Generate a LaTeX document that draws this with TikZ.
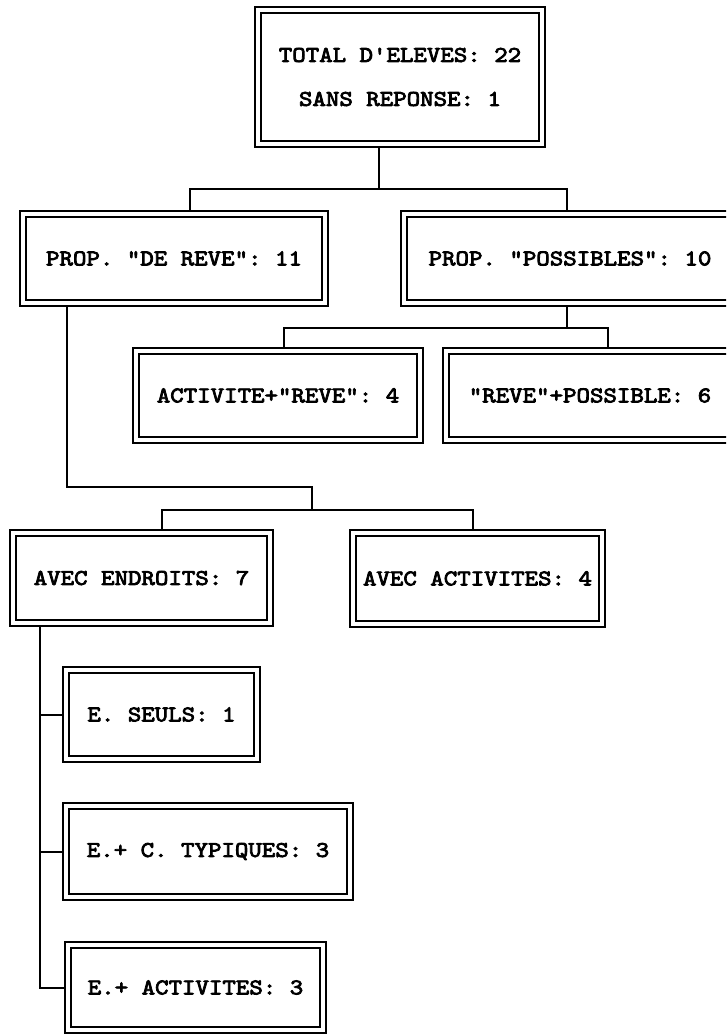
\documentclass[tikz,border=0pt]{standalone}
\usepackage{fontspec}
\setmonofont[FakeBold=3.5,FakeStretch=1.14]{lmmono10-regular.otf}
\begin{document}
\begin{tikzpicture}[x=1pt,y=-1pt,
  box/.style={draw, line width=1.2pt, inner sep=0pt, align=center,
    font=\ttfamily\fontsize{22.5}{44}\selectfont,
    path picture={\draw[line width=2.6pt]
      ([shift={(6pt,6pt)}]path picture bounding box.south west) rectangle
      ([shift={(-6pt,-6pt)}]path picture bounding box.north east);}},
  link/.style={line width=2pt}]
\useasboundingbox (0,0) rectangle (726,1035);
\clip (0,0) rectangle (726,1035);

\node[box, minimum width=290pt, minimum height=140pt] (top) at (400,77) {TOTAL D'ELEVES: 22\\SANS REPONSE: 1};
\node[box, minimum width=308pt, minimum height=95pt] (reve) at (174,258.5) {PROP. "DE REVE": 11};
\node[box, minimum width=338pt, minimum height=95pt] (poss) at (570,258.5) {PROP. "POSSIBLES": 10};
\node[box, minimum width=290pt, minimum height=95pt] (act) at (278,395.5) {ACTIVITE+"REVE": 4};
\node[box, minimum width=294pt, minimum height=95pt] (rp) at (590,395.5) {"REVE"+POSSIBLE: 6};
\node[box, minimum width=263pt, minimum height=96pt] (endr) at (141.5,578) {AVEC ENDROITS: 7};
\node[box, minimum width=255pt, minimum height=97pt] (avac) at (477.5,578.5) {AVEC ACTIVITES: 4};
\node[box, minimum width=197pt, minimum height=95pt] (eseul) at (161.5,714.5) {E. SEULS: 1};
\node[box, minimum width=290pt, minimum height=97pt] (etyp) at (208,851.5) {E.+ C. TYPIQUES: 3};
\node[box, minimum width=261pt, minimum height=91pt] (eact) at (195.5,987.5) {E.+ ACTIVITES: 3};

\coordinate (j0) at (379,189);
\coordinate (jl) at (190,189);
\coordinate (jr) at (567,189);
\draw[link] (j0 |- top.south) -- (j0);
\draw[link] (jl |- reve.north) -- (jl) -- (jr) -- (jr |- poss.north);

\coordinate (k0) at (567,328);
\coordinate (kl) at (284,328);
\coordinate (kr) at (608,328);
\draw[link] (k0 |- poss.south) -- (k0);
\draw[link] (kl |- act.north) -- (kl) -- (kr) -- (kr |- rp.north);

\coordinate (m1) at (67,487);
\coordinate (m2) at (312,487);
\coordinate (m3) at (312,510);
\coordinate (ml) at (162,510);
\coordinate (mr) at (473,510);
\draw[link] (m1 |- reve.south) -- (m1) -- (m2) -- (m3);
\draw[link] (ml |- endr.north) -- (ml) -- (mr) -- (mr |- avac.north);

\coordinate (n0) at (40,987.5);
\draw[link] (n0 |- endr.south) -- (n0) -- (eact.west);
\draw[link] (n0 |- eseul.west) -- (eseul.west);
\draw[link] (n0 |- etyp.west) -- (etyp.west);
\end{tikzpicture}
\end{document}
